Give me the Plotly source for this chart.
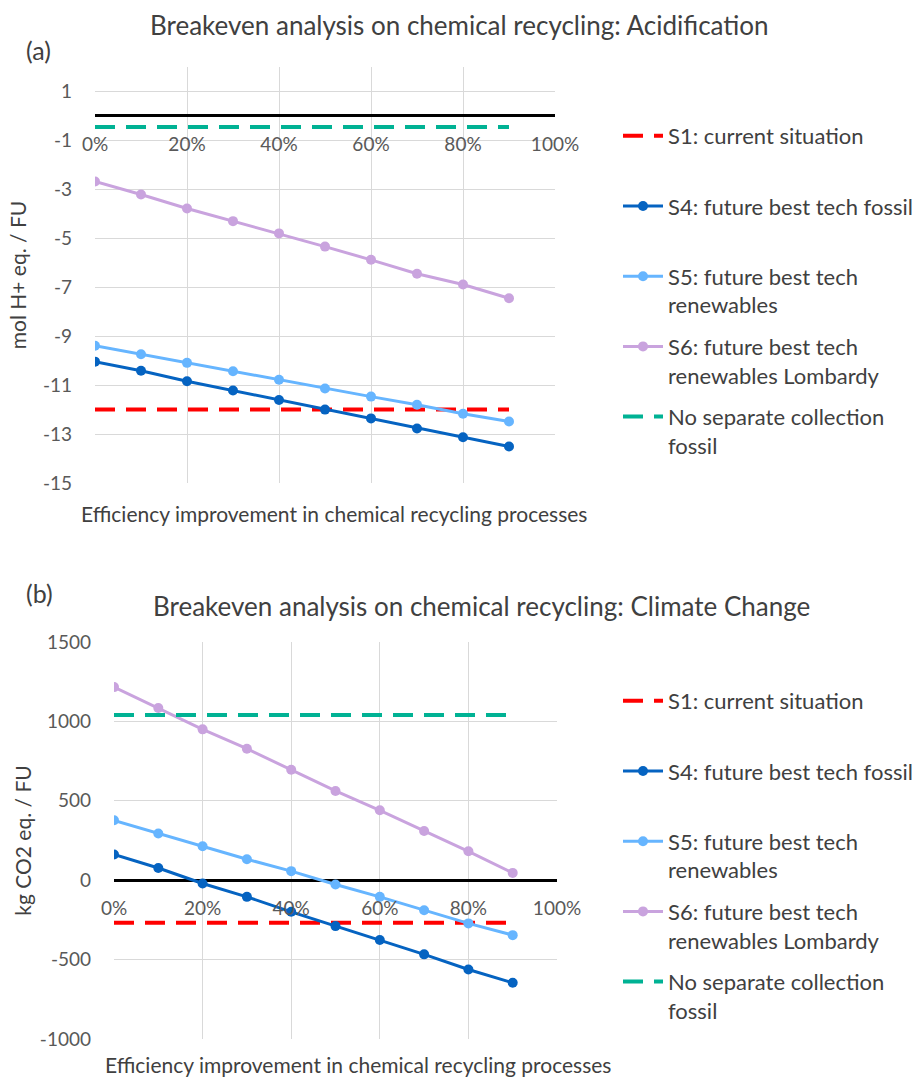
import plotly.graph_objects as go

W, H = 919, 1078
FONT = "Lato"
TEXT = "#404040"
TICK = "#595959"
GRID = "#D9D9D9"

# Shared x values: efficiency improvement steps
efficiency = [0.0, 0.1, 0.2, 0.3, 0.4, 0.5, 0.6, 0.7, 0.8, 0.9]
x_tickvals = [0.0, 0.2, 0.4, 0.6, 0.8, 1.0]
x_ticktext = ["0%", "20%", "40%", "60%", "80%", "100%"]

# (a) Acidification [mol H+ eq. / FU]
acid_yticks = [-15, -13, -11, -9, -7, -5, -3, -1, 1]
acid_yticktext = ["-15", "-13", "-11", "-9", "-7", "-5", "-3", "-1", "1"]
acid_s1 = [-12.0, -12.0, -12.0, -12.0, -12.0, -12.0, -12.0, -12.0, -12.0, -12.0]
acid_s4 = [-10.04, -10.41, -10.84, -11.22, -11.61, -12.00, -12.36, -12.77, -13.13, -13.51]
acid_s5 = [-9.39, -9.74, -10.09, -10.43, -10.78, -11.14, -11.47, -11.80, -12.17, -12.49]
acid_s6 = [-2.68, -3.21, -3.78, -4.30, -4.80, -5.34, -5.88, -6.45, -6.89, -7.45]
acid_nosep = [-0.45, -0.45, -0.45, -0.45, -0.45, -0.45, -0.45, -0.45, -0.45, -0.45]

# (b) Climate change [kg CO2 eq. / FU]
cc_yticks = [-1000, -500, 0, 500, 1000, 1500]
cc_yticktext = ["-1000", "-500", "0", "500", "1000", "1500"]
cc_s1 = [-268, -268, -268, -268, -268, -268, -268, -268, -268, -268]
cc_s4 = [162, 77, -21, -105, -199, -289, -377, -467, -562, -646]
cc_s5 = [377, 294, 214, 132, 57, -27, -105, -189, -272, -346]
cc_s6 = [1216, 1084, 950, 828, 696, 562, 440, 310, 182, 46]
cc_nosep = [1040, 1040, 1040, 1040, 1040, 1040, 1040, 1040, 1040, 1040]

series_names = [
    "S1: current situation<br> ",
    "S4: future best tech fossil<br> ",
    "S5: future best tech<br>renewables",
    "S6: future best tech<br>renewables Lombardy",
    "No separate collection<br>fossil",
]
series_colors = ["#FF0000", "#0563C1", "#66B5FF", "#C9A3DE", "#00B294"]
series_dashed = [True, False, False, False, True]

acid_series = [acid_s1, acid_s4, acid_s5, acid_s6, acid_nosep]
cc_series = [cc_s1, cc_s4, cc_s5, cc_s6, cc_nosep]


def px_x(x):
    return x / W


def px_y(y):
    return 1 - y / H


fig = go.Figure()

panels = [
    dict(data=acid_series, xa="x", ya="y", lab="x3", legend="legend", grp="a"),
    dict(data=cc_series, xa="x2", ya="y2", lab="x4", legend="legend2", grp="b"),
]
for p in panels:
    for name, color, dashed, vals in zip(series_names, series_colors, series_dashed, p["data"]):
        if dashed:
            fig.add_trace(go.Scatter(
                x=efficiency, y=vals, name=name, mode="lines",
                line=dict(color=color, width=4, dash="20px,11px"),
                xaxis=p["xa"], yaxis=p["ya"], legend=p["legend"],
                legendgroup=p["grp"] + name,
            ))
        else:
            fig.add_trace(go.Scatter(
                x=efficiency, y=vals, name=name, mode="lines+markers",
                line=dict(color=color, width=3),
                marker=dict(color=color, size=10),
                xaxis=p["xa"], yaxis=p["ya"], legend=p["legend"],
                legendgroup=p["grp"] + name,
            ))
    # empty trace so the zero-line label axis gets its own subplot
    fig.add_trace(go.Scatter(
        x=[None], y=[None], xaxis=p["lab"], yaxis=p["ya"],
        showlegend=False, hoverinfo="skip",
    ))

# Plot-area geometry
top_xd = [px_x(95), px_x(555)]
top_yd = [px_y(483), px_y(67)]
bot_xd = [px_x(114), px_x(557)]
bot_yd = [px_y(1039), px_y(642)]

top_range = [-15, 2]
bot_range = [-1000, 1500]
top_zero = top_yd[0] + (0 - top_range[0]) / (top_range[1] - top_range[0]) * (top_yd[1] - top_yd[0])
bot_zero = bot_yd[0] + (0 - bot_range[0]) / (bot_range[1] - bot_range[0]) * (bot_yd[1] - bot_yd[0])

xtitle = "Efficiency improvement in chemical recycling processes"
common_x = dict(
    range=[0, 1], tickvals=x_tickvals, ticktext=x_ticktext,
    showgrid=True, gridcolor=GRID, gridwidth=1, showticklabels=False,
    zeroline=False, showline=False, ticks="", automargin=False,
)
common_y = dict(
    showgrid=True, gridcolor=GRID, gridwidth=1, ticks="",
    zeroline=True, zerolinecolor="black", zerolinewidth=2.5,
    tickfont=dict(family=FONT, size=19, color=TICK), ticklabelstandoff=22,
    showline=False, automargin=False,
)
label_x = dict(
    range=[0, 1], tickvals=x_tickvals, ticktext=x_ticktext,
    showgrid=False, zeroline=False, showline=False, ticks="",
    tickfont=dict(family=FONT, size=19, color=TICK), ticklabelstandoff=15,
    anchor="free", side="bottom", automargin=False,
)
legend_common = dict(
    xanchor="left", yanchor="top", valign="top",
    font=dict(family=FONT, size=22, color=TEXT),
    tracegroupgap=10, itemwidth=40, bgcolor="rgba(0,0,0,0)",
)


def text_note(text, x, y, size, anchor="center"):
    return dict(text=text, x=px_x(x), y=px_y(y), xref="paper", yref="paper",
                xanchor=anchor, yanchor="middle", showarrow=False,
                font=dict(family=FONT, size=size, color=TEXT))


fig.update_layout(
    xaxis=dict(domain=top_xd, anchor="y", **common_x),
    yaxis=dict(domain=top_yd, anchor="x", range=top_range,
               tickvals=acid_yticks, ticktext=acid_yticktext, **common_y,
               title=dict(text="mol H+ eq. / FU", font=dict(family=FONT, size=21, color=TEXT), standoff=10)),
    xaxis2=dict(domain=bot_xd, anchor="y2", **common_x),
    yaxis2=dict(domain=bot_yd, anchor="x2", range=bot_range,
                tickvals=cc_yticks, ticktext=cc_yticktext, **common_y,
                title=dict(text="kg CO2 eq. / FU", font=dict(family=FONT, size=21, color=TEXT), standoff=2)),
    # tick labels that sit on the zero line of each panel
    xaxis3=dict(overlaying="x", position=top_zero, **label_x),
    xaxis4=dict(overlaying="x2", position=bot_zero, **label_x),
    legend=dict(x=px_x(618), y=px_y(115), **legend_common),
    legend2=dict(x=px_x(618), y=px_y(680), **legend_common),
    width=W, height=H, autosize=False,
    margin=dict(l=0, r=0, t=0, b=0, pad=0),
    paper_bgcolor="white", plot_bgcolor="white",
    showlegend=True,
    annotations=[
        text_note("Breakeven analysis on chemical recycling: Acidification", 459, 25, 26),
        text_note("Breakeven analysis on chemical recycling: Climate Change", 481, 606, 26),
        text_note("(a)", 24, 50, 25, anchor="left"),
        text_note("(b)", 24, 593, 25, anchor="left"),
        text_note(xtitle, 334, 513, 21),
        text_note(xtitle, 358, 1064, 21),
    ],
)

fig.write_html("out.html")
